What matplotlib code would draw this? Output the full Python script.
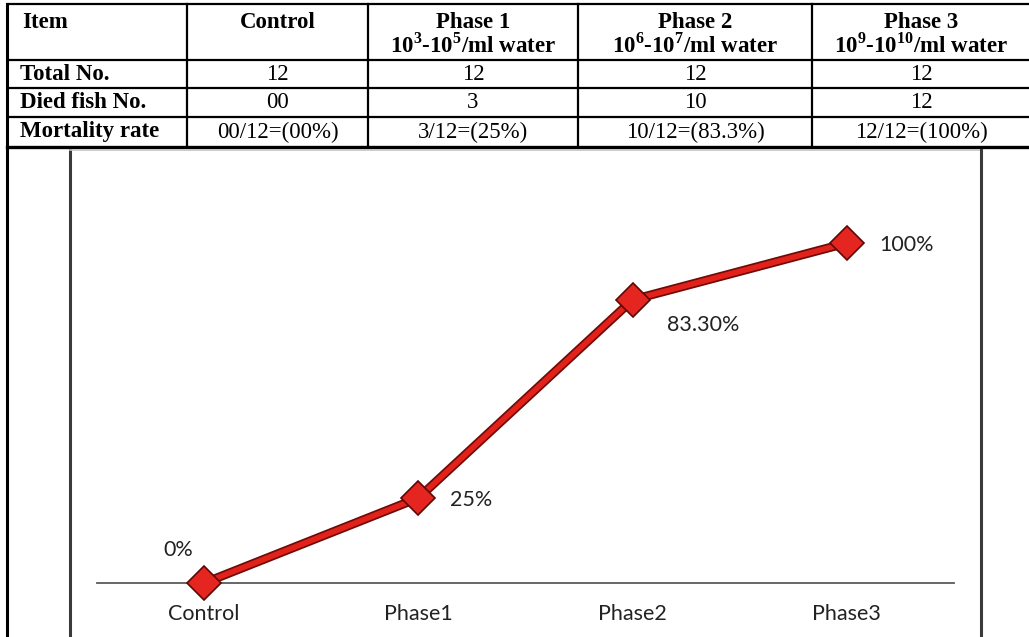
import matplotlib
matplotlib.use("Agg")
import matplotlib.pyplot as plt

# table contents
col_titles = ["Item", "Control", "Phase 1", "Phase 2", "Phase 3"]
col_doses = ["", "", r"10$^{\mathrm{3}}$-10$^{\mathrm{5}}$/ml water",
             r"10$^{\mathrm{6}}$-10$^{\mathrm{7}}$/ml water",
             r"10$^{\mathrm{9}}$-10$^{\mathrm{10}}$/ml water"]
row_names = ["Total No.", "Died fish No.", "Mortality rate"]
total_fish = ["12", "12", "12", "12"]
died_fish = ["00", "3", "10", "12"]
rate_text = ["00/12=(00%)", "3/12=(25%)", "10/12=(83.3%)", "12/12=(100%)"]

# chart series
groups = ["Control", "Phase1", "Phase2", "Phase3"]
mortality = [0, 25, 83.3, 100]
point_labels = ["0%", "25%", "83.30%", "100%"]

plt.rcParams["mathtext.fontset"] = "custom"
plt.rcParams["mathtext.rm"] = "Liberation Serif:bold"
plt.rcParams["mathtext.bf"] = "Liberation Serif:bold"

W, H = 1029, 637
fig = plt.figure(figsize=(W / 100, H / 100), dpi=100)

# overlay in pixel units for the table and the frame around the chart
bg = fig.add_axes([0, 0, 1, 1])
bg.set_xlim(0, W)
bg.set_ylim(H, 0)
bg.axis("off")

col_x = [7, 187, 368, 578, 812, 1031]
row_y = [4, 60, 88, 117, 147]

for y in row_y[:-1]:
    bg.plot([col_x[0], W], [y, y], color="black", lw=1.6, solid_capstyle="butt")
bg.plot([col_x[0], W], [row_y[-1], row_y[-1]], color="black", lw=2.4)
for x in col_x[1:-1]:
    bg.plot([x, x], [row_y[0], row_y[-1]], color="black", lw=1.6)
bg.plot([col_x[0], col_x[0]], [row_y[0], H], color="black", lw=2.2)

serif = "Liberation Serif"
fs = 16.5
centers = [(col_x[i] + col_x[i + 1]) / 2 for i in range(len(col_x) - 1)]
bg.text(22, 22, col_titles[0], ha="left", va="center", fontsize=fs,
        fontweight="bold", family=serif)
for i in range(1, 5):
    bg.text(centers[i], 22, col_titles[i], ha="center", va="center",
            fontsize=fs, fontweight="bold", family=serif)
    if col_doses[i]:
        bg.text(centers[i], 45, col_doses[i], ha="center", va="center",
                fontsize=fs, fontweight="bold", family=serif)

body_rows = [total_fish, died_fish, rate_text]
for r, (name, vals) in enumerate(zip(row_names, body_rows)):
    yc = (row_y[r + 1] + row_y[r + 2]) / 2
    bg.text(20, yc, name, ha="left", va="center", fontsize=fs,
            fontweight="bold", family=serif)
    for c, v in enumerate(vals):
        bg.text(centers[c + 1], yc, v, ha="center", va="center",
                fontsize=fs, family=serif)

# chart frame
bg.plot([70, 70], [150, H], color="#3a3a3a", lw=2.2)
bg.plot([70, 981], [150, 150], color="#c4c4c4", lw=1.2)
bg.plot([981, 981], [150, H], color="#3a3a3a", lw=2.2)

# line chart
base_px, top_px = 583, 150
ax = fig.add_axes([97 / W, (H - base_px) / H, (954 - 97) / W,
                   (base_px - top_px) / H])
ax.set_xlim(-0.5, 3.5)
ax.set_ylim(0, (base_px - top_px) / 3.4)
ax.patch.set_alpha(0)
for side in ["top", "right", "left"]:
    ax.spines[side].set_visible(False)
ax.spines["bottom"].set_color("#5a5a5a")
ax.spines["bottom"].set_linewidth(1.3)
ax.set_yticks([])

xs = list(range(len(groups)))
ax.plot(xs, mortality, color="#6e0b08", lw=6.5, solid_capstyle="round",
        clip_on=False, zorder=3)
ax.plot(xs, mortality, color="#e3211b", lw=4, solid_capstyle="round",
        clip_on=False, zorder=4)
ax.plot(xs, mortality, linestyle="none", marker="D", ms=17,
        markerfacecolor="#e52620", markeredgecolor="#5c0805",
        markeredgewidth=1.2, clip_on=False, zorder=5)

ax.set_xticks(xs)
ax.set_xticklabels(groups, family="Lato", fontsize=15.5, color="#222222")
ax.tick_params(axis="x", length=0, pad=15)

offsets = [(-26, 33, "center"), (32, -2, "left"), (34, -25, "left"),
           (32, -2, "left")]
for x, v, lab, (dx, dy, ha) in zip(xs, mortality, point_labels, offsets):
    ax.annotate(lab, (x, v), xytext=(dx, dy), textcoords="offset pixels",
                ha=ha, va="center", family="Lato", fontsize=15.5,
                color="#222222", annotation_clip=False)

fig.savefig("out.png", dpi=100)
